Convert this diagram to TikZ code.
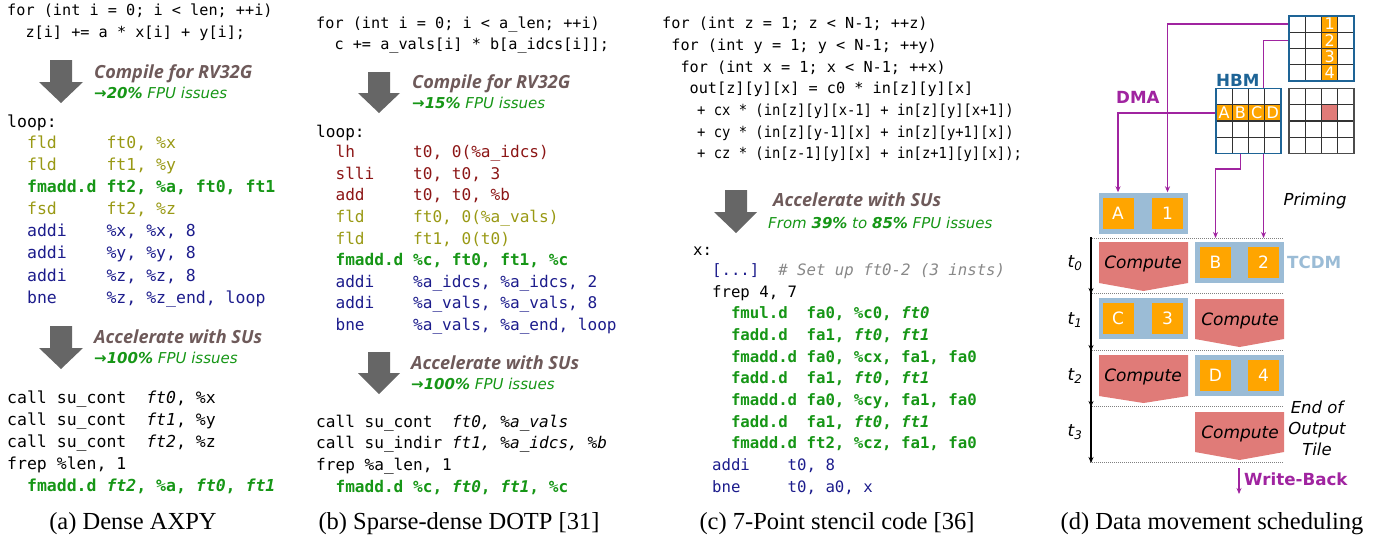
\documentclass[tikz,border=0pt]{standalone}
\usepackage{graphicx}
\usepackage{fontspec}
\setmainfont{Liberation Serif}
\setmonofont{DejaVu Sans Mono}
\newfontfamily\lblfont{Open Sans}
\newfontfamily\dvs{DejaVu Sans}
\usetikzlibrary{arrows.meta}
\definecolor{olivec}{RGB}{153,153,20}
\definecolor{navyc}{RGB}{28,28,140}
\definecolor{redc}{RGB}{140,22,22}
\definecolor{greenc}{RGB}{22,150,22}
\definecolor{brownc}{RGB}{110,90,90}
\definecolor{arrowc}{RGB}{102,102,102}
\definecolor{commc}{RGB}{136,136,136}
\definecolor{purplec}{RGB}{160,36,160}
\definecolor{hbmc}{RGB}{30,100,150}
\definecolor{tcdmc}{RGB}{155,188,214}
\definecolor{orangec}{RGB}{255,165,0}
\definecolor{computec}{RGB}{224,123,120}
\definecolor{gridc}{RGB}{50,50,50}
\newcommand{\arr}{→}
\begin{document}
\begin{tikzpicture}[x=1pt,y=-1pt,
  cc/.style={anchor=base west, inner sep=0pt, font=\fontsize{15.2}{18}\selectfont\ttfamily},
  asma/.style={anchor=base west, inner sep=0pt, font=\fontsize{16.5}{18}\selectfont\ttfamily},
  asmb/.style={anchor=base west, inner sep=0pt, font=\fontsize{16.1}{18}\selectfont\ttfamily},
  asmc/.style={anchor=base west, inner sep=0pt, font=\fontsize{15.7}{18}\selectfont\ttfamily},
  lbl/.style={anchor=base west, inner sep=0pt, text=brownc, font=\lblfont\fontsize{18.1}{20}\selectfont\bfseries\itshape},
  glbl/.style={anchor=base west, inner sep=0pt, text=greenc, font=\dvs\fontsize{15}{18}\selectfont\itshape},
  captxt/.style={anchor=base, inner sep=0pt, font=\fontsize{24.5}{28}\selectfont},
  dtxt/.style={inner sep=0pt, font=\dvs\fontsize{17}{21}\selectfont},
  tb/.style={fill=tcdmc, inner sep=0pt, minimum width=89pt, minimum height=41pt},
  ob/.style={fill=orangec, text=white, inner sep=0pt, minimum width=31pt, minimum height=31pt, font=\dvs\fontsize{17}{20}\selectfont},
  gl/.style={draw=gridc, line width=1.2pt},
  dma/.style={draw=purplec, line width=1.3pt, -{Stealth[length=6pt,width=5pt]}},
  tarrow/.style={draw=black, line width=1.3pt, -{Stealth[length=6pt,width=5pt]}},
  dotl/.style={draw=gray, line width=1pt, dash pattern=on 1pt off 1pt},
  bigarrow/.style={fill=arrowc}
]
\path[use as bounding box] (0,0) rectangle (1388,539);

% ================= Panel (a) =================
\node[cc] (a1) at (7,15.5) {for (int i = 0; i < len; ++i)};
\node[cc] (a2) at (7,37.5) {~~z[i] += a * x[i] + y[i];};
\fill[bigarrow] (50,60) -- (72,60) -- (72,82) -- (83,82) -- (61,103) -- (39,82) -- (50,82) -- cycle;
\node[lbl] (la1) at (94,78.5) {Compile for RV32G};
\node[glbl] (la2) at (94,98) {\textbf{\arr20\%} FPU issues};
\node[asma] (a3) at (7,127.5) {loop:};
\node[asma, text=olivec] (a4) at (7,148.5) {~~fld~~~~~ft0, \%x};
\node[asma, text=olivec] (a5) at (7,170.5) {~~fld~~~~~ft1, \%y};
\node[asma, text=greenc, font=\fontsize{16.5}{18}\selectfont\ttfamily\bfseries] (a6) at (7,192.5) {~~fmadd.d ft2, \%a, ft0, ft1};
\node[asma, text=olivec] (a7) at (7,214.5) {~~fsd~~~~~ft2, \%z};
\node[asma, text=navyc] (a8) at (7,236.5) {~~addi~~~~\%x, \%x, 8};
\node[asma, text=navyc] (a9) at (7,258.5) {~~addi~~~~\%y, \%y, 8};
\node[asma, text=navyc] (a10) at (7,281) {~~addi~~~~\%z, \%z, 8};
\node[asma, text=navyc] (a11) at (7,303.5) {~~bne~~~~~\%z, \%z\_end, loop};
\fill[bigarrow] (50,326) -- (72,326) -- (72,348) -- (83,348) -- (61,369) -- (39,348) -- (50,348) -- cycle;
\node[lbl] (la3) at (94,343.5) {Accelerate with SUs};
\node[glbl] (la4) at (94,363) {\textbf{\arr100\%} FPU issues};
\node[asma] (a12) at (7,403) {call su\_cont~~\textit{ft0}, \%x};
\node[asma] (a13) at (7,425) {call su\_cont~~\textit{ft1}, \%y};
\node[asma] (a14) at (7,447) {call su\_cont~~\textit{ft2}, \%z};
\node[asma] (a15) at (7,469) {frep \%len, 1};
\node[asma, text=greenc, font=\fontsize{16.5}{18}\selectfont\ttfamily\bfseries] (a16) at (7,491) {~~fmadd.d \textit{ft2}, \%a, \textit{ft0}, \textit{ft1}};
\node[captxt] (capa) at (133,529) {(a) Dense AXPY};

% ================= Panel (b) =================
\node[cc] (b1) at (316,28.5) {for (int i = 0; i < a\_len; ++i)};
\node[cc] (b2) at (316,49.5) {~~c += a\_vals[i] * b[a\_idcs[i]];};
\fill[bigarrow] (368,72) -- (390,72) -- (390,93) -- (400,93) -- (379,113) -- (358,93) -- (368,93) -- cycle;
\node[lbl] (lb1) at (412,88.5) {Compile for RV32G};
\node[glbl] (lb2) at (412,108) {\textbf{\arr15\%} FPU issues};
\node[asmb] (b3) at (316,137.5) {loop:};
\node[asmb, text=redc] (b4) at (316,157.5) {~~lh~~~~~~t0, 0(\%a\_idcs)};
\node[asmb, text=redc] (b5) at (316,179.5) {~~slli~~~~t0, t0, 3};
\node[asmb, text=redc] (b6) at (316,200.5) {~~add~~~~~t0, t0, \%b};
\node[asmb, text=olivec] (b7) at (316,222.5) {~~fld~~~~~ft0, 0(\%a\_vals)};
\node[asmb, text=olivec] (b8) at (316,244.5) {~~fld~~~~~ft1, 0(t0)};
\node[asmb, text=greenc, font=\fontsize{16.1}{18}\selectfont\ttfamily\bfseries] (b9) at (316,265.5) {~~fmadd.d \%c, ft0, ft1, \%c};
\node[asmb, text=navyc] (b10) at (316,287.5) {~~addi~~~~\%a\_idcs, \%a\_idcs, 2};
\node[asmb, text=navyc] (b11) at (316,308.5) {~~addi~~~~\%a\_vals, \%a\_vals, 8};
\node[asmb, text=navyc] (b12) at (316,330.5) {~~bne~~~~~\%a\_vals, \%a\_end, loop};
\fill[bigarrow] (368,352) -- (390,352) -- (390,373) -- (400,373) -- (379,394) -- (358,373) -- (368,373) -- cycle;
\node[lbl] (lb3) at (411,369.5) {Accelerate with SUs};
\node[glbl] (lb4) at (411,389) {\textbf{\arr100\%} FPU issues};
\node[asmb] (b13) at (316,427.5) {call su\_cont~~\textit{ft0, \%a\_vals}};
\node[asmb] (b14) at (316,448.5) {call su\_indir \textit{ft1, \%a\_idcs, \%b}};
\node[asmb] (b15) at (316,470.5) {frep \%a\_len, 1};
\node[asmb, text=greenc, font=\fontsize{16.1}{18}\selectfont\ttfamily\bfseries] (b16) at (316,492.5) {~~fmadd.d \%c, \textit{ft0}, \textit{ft1}, \%c};
\node[captxt] (capb) at (459,529) {(b) Sparse-dense DOTP [31]};

% ================= Panel (c) =================
\node[cc] (c1) at (662,28.5) {for (int z = 1; z < N-1; ++z)};
\node[cc] (c2) at (662,50.5) {~for (int y = 1; y < N-1; ++y)};
\node[cc] (c3) at (662,72.5) {~~for (int x = 1; x < N-1; ++x)};
\node[cc] (c4) at (662,93.5) {~~~out[z][y][x] = c0 * in[z][y][x]};
\node[cc] (c5) at (697,115.5) {\scalebox{0.91}[1]{+ cx * (in[z][y][x-1] + in[z][y][x+1])}};
\node[cc] (c6) at (697,137.5) {\scalebox{0.91}[1]{+ cy * (in[z][y-1][x] + in[z][y+1][x])}};
\node[cc] (c7) at (697,158.5) {\scalebox{0.91}[1]{+ cz * (in[z-1][y][x] + in[z+1][y][x]);}};
\fill[bigarrow] (725,190) -- (747,190) -- (747,212) -- (757,212) -- (736,233) -- (714,212) -- (725,212) -- cycle;
\node[lbl] (lc1) at (773,206.5) {Accelerate with SUs};
\node[glbl] (lc2) at (768,228) {From \textbf{39\%} to \textbf{85\%} FPU issues};
\node[asmc] (c8) at (693,255.5) {x:};
\node[asmc] (c9) at (693,275.5) {~~{\color{navyc}[...]}~~{\color{commc}\itshape\# Set up ft0-2 (3 insts)}};
\node[asmc] (c10) at (693,297.5) {~~frep 4, 7};
\begin{scope}[every node/.style={asmc, text=greenc, font=\fontsize{15.7}{18}\selectfont\ttfamily\bfseries}]
\node (c11) at (693,318.5) {~~~~fmul.d~~fa0, \%c0, \textit{ft0}};
\node (c12) at (693,340) {~~~~fadd.d~~fa1, \textit{ft0}, \textit{ft1}};
\node (c13) at (693,362) {~~~~fmadd.d fa0, \%cx, fa1, fa0};
\node (c14) at (693,383.5) {~~~~fadd.d~~fa1, \textit{ft0}, \textit{ft1}};
\node (c15) at (693,405.5) {~~~~fmadd.d fa0, \%cy, fa1, fa0};
\node (c16) at (693,427) {~~~~fadd.d~~fa1, \textit{ft0}, \textit{ft1}};
\node (c17) at (693,448.5) {~~~~fmadd.d ft2, \%cz, fa1, fa0};
\end{scope}
\node[asmc, text=navyc] (c18) at (693,470.5) {~~addi~~~~t0, 8};
\node[asmc, text=navyc] (c19) at (693,492.5) {~~bne~~~~~t0, a0, x};
\node[captxt] (capc) at (837,529) {(c) 7-Point stencil code [36]};

% ================= Panel (d) =================
% TCDM buffers and tiles
\node[tb] (prime) at (1143.5,213) {};
\node[ob] (oA) at (1118,213.5) {A};
\node[ob] (o1) at (1167.5,213.5) {1};
\node[tb] (tz) at (1239.5,262.5) {};
\node[ob] (oB) at (1215.5,262) {B};
\node[ob] (o2) at (1263.5,262) {2};
\node[tb] (tone) at (1143.5,318.5) {};
\node[ob] (oC) at (1118,318.5) {C};
\node[ob] (o3) at (1167.5,318.5) {3};
\node[tb] (ttwo) at (1239.5,375.5) {};
\node[ob] (oD) at (1215.5,375) {D};
\node[ob] (o4) at (1263.5,375) {4};

% compute shapes
\fill[computec] (1099,242) -- (1188,242) -- (1188,283) -- (1143.5,291) -- (1099,283) -- cycle;
\fill[computec] (1195,299) -- (1284,299) -- (1284,339) -- (1239.5,347) -- (1195,339) -- cycle;
\fill[computec] (1099,355) -- (1188,355) -- (1188,396) -- (1143.5,403) -- (1099,396) -- cycle;
\fill[computec] (1195,412) -- (1284,412) -- (1284,452) -- (1239.5,460) -- (1195,452) -- cycle;
\node[dtxt, font=\dvs\fontsize{17}{21}\selectfont\itshape] (cp0) at (1143,264) {Compute};
\node[dtxt, font=\dvs\fontsize{17}{21}\selectfont\itshape] (cp1) at (1240,321) {Compute};
\node[dtxt, font=\dvs\fontsize{17}{21}\selectfont\itshape] (cp2) at (1143,377) {Compute};
\node[dtxt, font=\dvs\fontsize{17}{21}\selectfont\itshape] (cp3) at (1240,434) {Compute};

% time separators
\coordinate (d0) at (1090,238);
\coordinate (d1) at (1090,293);
\coordinate (d2) at (1090,350);
\coordinate (d3) at (1090,406);
\coordinate (d4) at (1090,462);
\foreach \c in {d0,d1,d2,d3,d4} { \draw[dotl] (\c) -- ++(193,0); }
\draw[tarrow] ([xshift=1pt,yshift=1pt]d0) -- ([xshift=1pt,yshift=-1pt]d1);
\draw[tarrow] ([xshift=1pt,yshift=1pt]d1) -- ([xshift=1pt,yshift=-1pt]d2);
\draw[tarrow] ([xshift=1pt,yshift=1pt]d2) -- ([xshift=1pt,yshift=-1pt]d3);
\draw[tarrow] ([xshift=1pt,yshift=1pt]d3) -- ([xshift=1pt,yshift=-1pt]d4);
\node[dtxt, font=\dvs\fontsize{17}{21}\selectfont\itshape] (t0) at (1075,263) {t\textsubscript{0}};
\node[dtxt, font=\dvs\fontsize{17}{21}\selectfont\itshape] (t1) at (1075,320) {t\textsubscript{1}};
\node[dtxt, font=\dvs\fontsize{17}{21}\selectfont\itshape] (t2) at (1075,376) {t\textsubscript{2}};
\node[dtxt, font=\dvs\fontsize{17}{21}\selectfont\itshape] (t3) at (1075,432) {t\textsubscript{3}};

% DMA connectors (drawn before grids so grids cover them)
\coordinate (g1) at (1321.5,24.1);
\coordinate (g2) at (1321.5,40.4);
\coordinate (gA) at (1216,112.9);
\coordinate (gB) at (1240.4,121);
\draw[dma] (g1) -| (o1 |- prime.north);
\draw[dma] (g2) -| (o2 |- d0);
\draw[dma] (gA) -| (oA |- prime.north);
\draw[dma] (gB) -- ++(0,48) -| (oB |- d0);

% HBM grid
\fill[white] (1216,88.5) rectangle (1281,153.5);
\fill[orangec] (1216,104.75) rectangle (1281,121);
\foreach \i in {1,2,3} {
  \draw[gl] ({1216+16.25*\i},88.5) -- ({1216+16.25*\i},153.5);
  \draw[gl] (1216,{88.5+16.25*\i}) -- (1281,{88.5+16.25*\i});
}
\draw[hbmc, line width=1.8pt] (1216,88.5) rectangle (1281,153.5);
\foreach \l/\k in {A/0,B/1,C/2,D/3} {
  \node[dtxt, text=white, font=\dvs\fontsize{16}{18}\selectfont] (h\l) at ({1224.1+16.25*\k},113) {\l};
}
% top-right grid (input tile)
\fill[white] (1289,16) rectangle (1354,81);
\fill[orangec] (1321.5,16) rectangle (1337.75,81);
\foreach \i in {1,2,3} {
  \draw[gl] ({1289+16.25*\i},16) -- ({1289+16.25*\i},81);
  \draw[gl] (1289,{16+16.25*\i}) -- (1354,{16+16.25*\i});
}
\draw[hbmc, line width=1.8pt] (1289,16) rectangle (1354,81);
\foreach \n/\k in {1/0,2/1,3/2,4/3} {
  \node[dtxt, text=white, font=\dvs\fontsize{16}{18}\selectfont] (v\n) at (1329.6,{24.1+16.25*\k}) {\n};
}
% bottom-right grid (output tile)
\fill[computec] (1321.5,104.75) rectangle (1337.75,121);
\foreach \i in {1,2,3} {
  \draw[gl] ({1289+16.25*\i},88.5) -- ({1289+16.25*\i},153.5);
  \draw[gl] (1289,{88.5+16.25*\i}) -- (1354,{88.5+16.25*\i});
}
\draw[gray!60!black, line width=1.8pt] (1289,88.5) rectangle (1354,153.5);

% labels
\node[dtxt, anchor=west, text=hbmc, font=\dvs\fontsize{16.7}{20}\selectfont\bfseries] (hbm) at (1216,80) {HBM};
\node[dtxt, anchor=west, text=purplec, font=\dvs\fontsize{16.7}{20}\selectfont\bfseries] (dmal) at (1116,97) {DMA};
\node[dtxt, anchor=west, text=tcdmc, font=\dvs\fontsize{16.7}{20}\selectfont\bfseries] (tcdm) at (1287,262) {TCDM};
\node[dtxt, font=\dvs\fontsize{16.5}{20}\selectfont\itshape] (prim) at (1315,201) {Priming};
\node[dtxt, align=center, font=\dvs\fontsize{16.5}{21}\selectfont\itshape] (eot) at (1317,428) {End of\\Output\\Tile};
\coordinate (wb1) at (1239,468);
\coordinate (wb2) at (1239,494);
\draw[dma] (wb1) -- (wb2);
\node[dtxt, anchor=west, text=purplec, font=\dvs\fontsize{16.7}{20}\selectfont\bfseries] (wbl) at (1244,479) {Write-Back};
\node[captxt] (capd) at (1212,529) {(d) Data movement scheduling};
\end{tikzpicture}
\end{document}
